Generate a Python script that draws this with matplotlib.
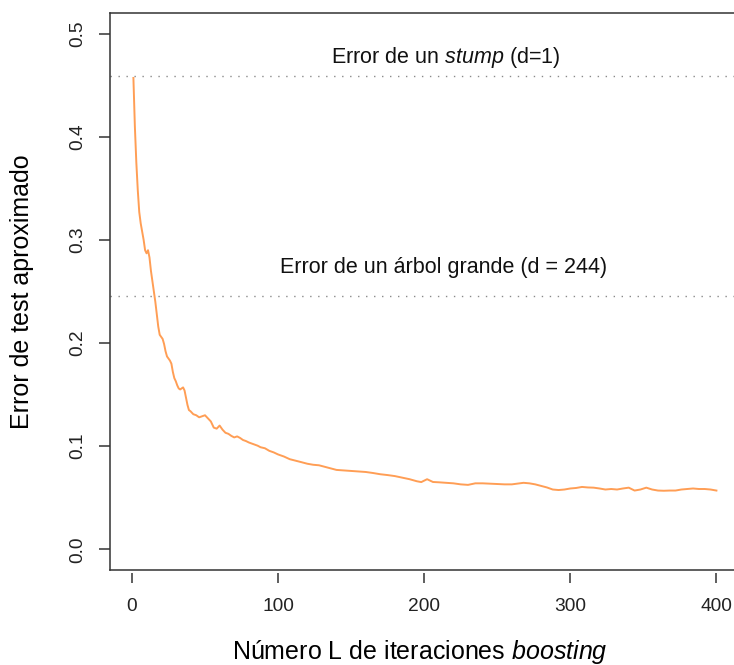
import matplotlib
matplotlib.use("Agg")
import matplotlib.pyplot as plt

plt.rcParams["font.family"] = ["Liberation Sans", "DejaVu Sans"]
plt.rcParams["mathtext.fontset"] = "custom"
plt.rcParams["mathtext.rm"] = "Liberation Sans"
plt.rcParams["mathtext.it"] = "Liberation Sans:italic"

# test error vs boosting iterations
iters = [1, 2, 3, 4, 5, 6, 7, 8, 9, 10, 11, 12, 13, 14, 15, 16, 17, 18, 19, 20,
         21, 22, 23, 24, 25, 26, 27, 28, 29, 30, 31, 32, 33, 34, 35, 36, 37, 38,
         39, 40, 42, 44, 46, 48, 50, 52, 54, 56, 58, 60, 62, 64, 66, 68, 70, 72,
         74, 76, 78, 80, 83, 86, 88, 91, 94, 97, 100, 104, 108, 112, 116, 120,
         124, 128, 132, 136, 140, 145, 150, 155, 160, 165, 170, 175, 180, 185,
         190, 195, 198, 202, 206, 210, 215, 220, 225, 230, 235, 240, 245, 250,
         255, 260, 265, 268, 272, 276, 280, 284, 288, 292, 296, 300, 304, 308,
         312, 316, 320, 324, 328, 332, 336, 340, 344, 348, 352, 356, 360, 364,
         368, 372, 376, 380, 384, 388, 392, 396, 400]
test_error = [0.457, 0.410, 0.375, 0.348, 0.327, 0.316, 0.308, 0.300, 0.290, 0.287,
              0.290, 0.283, 0.270, 0.260, 0.250, 0.240, 0.228, 0.216, 0.208, 0.206,
              0.204, 0.199, 0.192, 0.187, 0.185, 0.183, 0.180, 0.172, 0.166, 0.163,
              0.159, 0.156, 0.155, 0.156, 0.157, 0.154, 0.147, 0.140, 0.135, 0.134,
              0.131, 0.130, 0.128, 0.129, 0.130, 0.127, 0.124, 0.118, 0.117, 0.120,
              0.116, 0.113, 0.112, 0.110, 0.1085, 0.1095, 0.108, 0.106, 0.105, 0.1036,
              0.102, 0.1005, 0.099, 0.098, 0.0955, 0.094, 0.092, 0.090, 0.0874, 0.086,
              0.0845, 0.083, 0.082, 0.0815, 0.080, 0.0785, 0.077, 0.0765, 0.076, 0.0755,
              0.075, 0.074, 0.0728, 0.072, 0.071, 0.0695, 0.068, 0.066, 0.0652, 0.068,
              0.0653, 0.065, 0.0645, 0.064, 0.063, 0.0625, 0.064, 0.064, 0.0637, 0.0633,
              0.063, 0.063, 0.064, 0.0645, 0.064, 0.063, 0.0615, 0.060, 0.058, 0.0575,
              0.058, 0.059, 0.0595, 0.0605, 0.060, 0.0598, 0.059, 0.058, 0.0585, 0.058,
              0.059, 0.0598, 0.057, 0.058, 0.0598, 0.058, 0.057, 0.0568, 0.057, 0.057,
              0.058, 0.0585, 0.059, 0.0585, 0.0585, 0.058, 0.057]

stump_error = 0.459
tree_error = 0.2456
xticks = [0, 100, 200, 300, 400]
yticks = [0.0, 0.1, 0.2, 0.3, 0.4, 0.5]

fig = plt.figure(figsize=(7.34, 6.65), dpi=100)
# right side of the box runs past the image edge, like the original crop
ax = fig.add_axes([0.1499, 0.1429, 0.858, 0.8376])

ax.plot(iters, test_error, color="#ff9e55", lw=1.4)
ax.axhline(stump_error, color="#8a8a8a", lw=1.0, ls=(0, (1, 4.75)))
ax.axhline(tree_error, color="#8a8a8a", lw=1.0, ls=(0, (1, 4.75)))

ax.text(215, 0.477, "Error de un $\\it{stump}$ (d=1)", ha="center", va="center",
        fontsize=15.5, color="#111111")
ax.text(213, 0.2728, "Error de un árbol grande (d = 244)", ha="center",
        va="center", fontsize=15.5, color="#111111")

ax.set_xlim(-15, 416)
ax.set_ylim(-0.02, 0.52)

for s in ax.spines.values():
    s.set_color("#333333")
    s.set_linewidth(1.1)

ax.set_yticks(yticks)
ax.set_yticklabels(["%.1f" % v for v in yticks])
ax.tick_params(axis="y", direction="out", length=8, width=1.1, color="#333333",
               pad=9, labelsize=13.8, labelcolor="#222222", labelrotation=90)
for lab in ax.get_yticklabels():
    lab.set_va("center")

# x axis sits a little below the box
ax.tick_params(axis="x", bottom=False, labelbottom=False)
sec = ax.secondary_xaxis(-0.006)
sec.spines["bottom"].set_visible(False)
sec.set_xticks(xticks)
sec.set_xticklabels([str(v) for v in xticks])
sec.tick_params(axis="x", direction="out", length=7.5, width=1.1, color="#333333",
                pad=10, labelsize=13.8, labelcolor="#222222")

ax.set_ylabel("Error de test aproximado", fontsize=18)
ax.yaxis.label.set_va("center")
ax.yaxis.set_label_coords(-0.1397, 0.5)
ax.set_xlabel("Número L de iteraciones $\\it{boosting}$", fontsize=18)
ax.xaxis.label.set_va("center")
ax.xaxis.set_label_coords(0.492, -0.147)

fig.savefig("out.png", dpi=100)
